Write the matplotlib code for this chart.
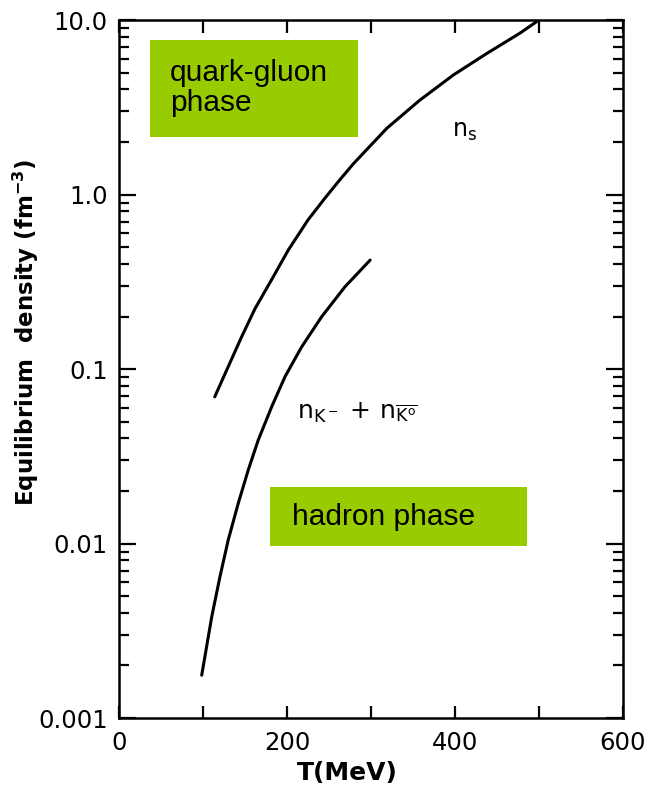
"""
Equilibrium density vs T: strange quark density and kaon density
"""
import numpy as np
import matplotlib.pyplot as plt
from matplotlib.patches import Rectangle
from matplotlib.ticker import LogLocator, NullFormatter

plt.rcParams['font.family'] = ['DejaVu Sans']
plt.rcParams['mathtext.fontset'] = 'dejavusans'

# ========== data ==========
T_s = [114, 130, 146, 162, 182, 201.5, 225, 245, 261, 279, 319, 358, 398, 438, 477, 500]
n_s = [0.0693, 0.103, 0.153, 0.222, 0.327, 0.48, 0.715, 0.951, 1.184, 1.50, 2.40,
       3.47, 4.84, 6.44, 8.39, 10.0]

T_k = [98.5, 110.4, 120.2, 130.1, 142, 153.9, 165.8, 181.8, 197.6, 217.5, 241.3, 269, 299]
n_k = [0.00176, 0.0038, 0.00645, 0.0105, 0.0170, 0.0264, 0.0392, 0.0608, 0.0903,
       0.134, 0.1995, 0.296, 0.421]

y_ticks = [10.0, 1.0, 0.1, 0.01, 0.001]
y_ticklabels = ['10.0', '1.0', '0.1', '0.01', '0.001']
x_ticklabels = ['0', '200', '400', '600']

green = '#99cc00'

# ========== plot ==========
fig = plt.figure(figsize=(6.48, 7.92), dpi=100)
ax = fig.add_axes([0.1836, 0.0934, 0.7778, 0.8813])

ax.plot(T_s, n_s, color='black', lw=2.2, solid_capstyle='round')
ax.plot(T_k, n_k, color='black', lw=2.2, solid_capstyle='round')

ax.set_yscale('log')
ax.set_xlim(0, 600)
ax.set_ylim(0.001, 10.0)

ax.set_xticks([0, 200, 400, 600])
ax.set_xticklabels(x_ticklabels)
ax.set_xticks([100, 300, 500], minor=True)
ax.set_yticks(y_ticks)
ax.set_yticklabels(y_ticklabels)
ax.yaxis.set_minor_locator(LogLocator(base=10, subs=np.arange(2, 10)))
ax.yaxis.set_minor_formatter(NullFormatter())

ax.tick_params(axis='both', which='both', direction='in', top=True, right=True,
               width=1.6, labelsize=17.5, color='black')
ax.tick_params(axis='y', which='major', length=12, pad=8)
ax.tick_params(axis='y', which='minor', length=7.5)
ax.tick_params(axis='x', which='both', length=9, pad=9)
for sp in ax.spines.values():
    sp.set_linewidth(1.8)

ax.set_xlabel('T(MeV)', fontsize=18, fontweight='bold')
ax.xaxis.set_label_coords(0.454, -0.062)
ax.set_ylabel(r'Equilibrium  density (fm$^{\mathbf{-3}}$)', fontsize=16.5,
              fontweight='bold')
ax.yaxis.set_label_coords(-0.155, 0.553)

# curve labels
ax.text(397, 2.3, r'$\mathregular{n_s}$', fontsize=17, va='center', ha='left')
ax.text(212, 0.056, r'$\mathregular{n_{K^-}\,+\,n_{\overline{K^o}}}$', fontsize=18,
        va='center', ha='left')

# phase boxes
ax.add_patch(Rectangle((0.0615, 0.832), 0.4125, 0.139, transform=ax.transAxes,
                       facecolor=green, edgecolor='none', zorder=3))
ax.text(0.101, 0.9026, 'quark-gluon\nphase', transform=ax.transAxes,
        fontsize=21.5, family='Liberation Sans', va='center', ha='left',
        linespacing=1.05, zorder=4)

ax.add_patch(Rectangle((0.2996, 0.246), 0.51, 0.085, transform=ax.transAxes,
                       facecolor=green, edgecolor='none', zorder=3))
ax.text(0.343, 0.288, 'hadron phase', transform=ax.transAxes,
        fontsize=21.5, family='Liberation Sans', va='center', ha='left', zorder=4)

plt.savefig('out.png', dpi=100)
plt.close()
